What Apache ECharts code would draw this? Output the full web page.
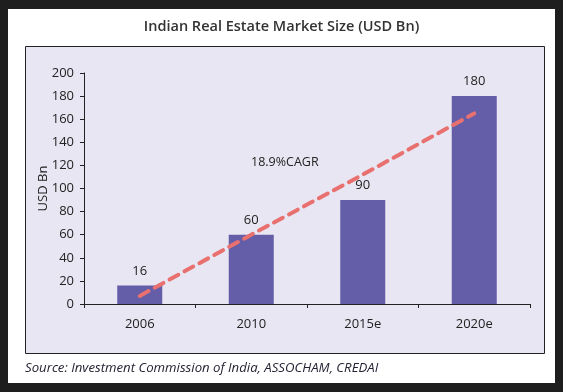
<!DOCTYPE html>
<html>
<head>
<meta charset="utf-8">
<script src="https://cdn.jsdelivr.net/npm/echarts@6/dist/echarts.min.js"></script>
<style>
html,body{margin:0;padding:0;background:#1e1e1e;}
#chart{width:563px;height:392px;}
</style>
</head>
<body>
<div id="chart"></div>
<script>
var categories = ['2006', '2010', '2015e', '2020e'];
var marketSize = [16, 60, 90, 180];
var cagrTrend = [7, 60, 112, 165];
var yTicks = [0, 20, 40, 60, 80, 100, 120, 140, 160, 180, 200];
var titleText = 'Indian Real Estate Market Size (USD Bn)';
var sourceText = 'Source: Investment Commission of India, ASSOCHAM, CREDAI';
var cagrText = '18.9%CAGR';

var FONT = '"Open Sans", "Noto Sans", sans-serif';
var chart = echarts.init(document.getElementById('chart'), null, {renderer: 'canvas'});
chart.setOption({
  backgroundColor: '#1e1e1e',
  animation: false,
  graphic: [
    {type: 'rect', z: -10, shape: {x: 8, y: 9, width: 547, height: 374}, style: {fill: '#ffffff'}},
    {type: 'rect', z: -9, shape: {x: 25.5, y: 46.5, width: 519, height: 307}, style: {fill: '#e8e6f2', stroke: '#222222', lineWidth: 1}},
    {type: 'text', left: 'center', top: 19, style: {text: titleText, font: '600 14.5px ' + FONT, fill: '#333333'}},
    {type: 'text', left: 25, top: 362, style: {text: sourceText, font: 'italic 13.2px ' + FONT, fill: '#222233'}},
    {type: 'text', left: 251, top: 156, style: {text: cagrText, font: '12.5px ' + FONT, fill: '#222222'}}
  ],
  grid: {left: 84, right: 33, top: 73, bottom: 88, containLabel: false},
  xAxis: {
    type: 'category',
    data: categories,
    boundaryGap: true,
    axisLine: {lineStyle: {color: '#222222', width: 1}},
    axisTick: {show: true, alignWithLabel: false, length: 4, lineStyle: {color: '#222222'}},
    axisLabel: {color: '#222222', fontSize: 13, fontFamily: FONT, margin: 14}
  },
  yAxis: {
    type: 'value',
    min: 0, max: 200, interval: 20,
    name: 'USD Bn',
    nameLocation: 'middle',
    nameRotate: 90,
    nameGap: 34,
    nameMoveOverlap: false,
    nameTextStyle: {color: '#222222', fontSize: 13, fontFamily: FONT},
    axisLine: {show: true, lineStyle: {color: '#222222', width: 1}},
    axisTick: {show: true, length: 4, lineStyle: {color: '#222222'}},
    splitLine: {show: false},
    axisLabel: {color: '#222222', fontSize: 13, fontFamily: FONT, margin: 10,
      formatter: function (v) { return yTicks.indexOf(v) >= 0 ? String(v) : ''; }}
  },
  series: [
    {
      type: 'bar',
      data: marketSize,
      barWidth: 45,
      itemStyle: {color: '#645ea8'},
      label: {show: true, position: 'top', distance: 8, color: '#222222', fontSize: 13, fontFamily: FONT}
    },
    {
      type: 'line',
      data: cagrTrend,
      symbol: 'none',
      z: 5,
      lineStyle: {color: '#e8706f', width: 4, type: [10, 7], cap: 'round'}
    }
  ]
});
</script>
</body>
</html>
